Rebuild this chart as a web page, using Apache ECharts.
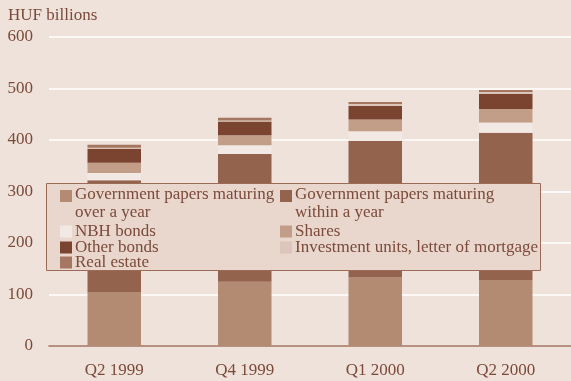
<!DOCTYPE html>
<html>
<head>
<meta charset="utf-8">
<script src="https://cdn.jsdelivr.net/npm/echarts@6/dist/echarts.min.js"></script>
<style>
  html, body { margin: 0; padding: 0; background: #efe2da; }
  #chart { width: 571px; height: 381px; }
</style>
</head>
<body>
<div id="chart"></div>
<script>
// Quarter categories and stacked components (HUF billions)
const quarters = ['Q2 1999', 'Q4 1999', 'Q1 2000', 'Q2 2000'];
const govOverYear     = [105, 125, 133, 128];
const govWithinYear   = [217, 248, 265, 286];
const nbhBonds        = [14, 17, 19, 20];
const shares          = [20, 19, 23, 26];
const otherBonds      = [27, 27, 26, 30];
const investmentUnits = [2, 2, 4, 3];
const realEstate      = [6, 5, 4, 4];
const yTicks = [0, 100, 200, 300, 400, 500, 600];

const FONT = '"Liberation Serif", "DejaVu Serif", serif';
const TEXT = '#7b4a3a';
const FS = 17;

const seriesDefs = [
  { name: 'Government papers maturing over a year', data: govOverYear, color: '#b38a72' },
  { name: 'Government papers maturing within a year', data: govWithinYear, color: '#93634d' },
  { name: 'NBH bonds', data: nbhBonds, color: '#f3e9e4' },
  { name: 'Shares', data: shares, color: '#c29e88' },
  { name: 'Other bonds', data: otherBonds, color: '#7a4431' },
  { name: 'Investment units, letter of mortgage', data: investmentUnits, color: '#dcc5ba' },
  { name: 'Real estate', data: realEstate, color: '#a57660' }
];

// Legend entries laid out in two columns inside a framed box
const legendSlots = [
  { name: seriesDefs[0].name, left: 60, top: 186, wrap: 'over a year' },
  { name: seriesDefs[1].name, left: 280, top: 186, wrap: 'within a year' },
  { name: seriesDefs[2].name, left: 60, top: 223 },
  { name: seriesDefs[3].name, left: 280, top: 223 },
  { name: seriesDefs[4].name, left: 60, top: 239 },
  { name: seriesDefs[5].name, left: 280, top: 239 },
  { name: seriesDefs[6].name, left: 60, top: 254 }
];

const legends = legendSlots.map(s => {
  const twoLine = !!s.wrap;
  return {
    data: [s.name],
    left: s.left,
    top: s.top,
    padding: 0,
    itemGap: 0,
    itemWidth: 12,
    itemHeight: twoLine ? 28 : 12,
    icon: twoLine ? 'path://M0,0H12V12H0Z M0,28L0.01,28' : 'rect',
    selectedMode: false,
    z: 10,
    itemStyle: { borderWidth: 0 },
    textStyle: { fontFamily: FONT, fontSize: FS, color: TEXT, lineHeight: twoLine ? 18 : 17, padding: [0, 0, 0, -2] },
    formatter: name => twoLine ? name.slice(0, name.length - s.wrap.length - 1) + '\n' + s.wrap : name
  };
});

const option = {
  backgroundColor: '#efe2da',
  animation: false,
  title: {
    text: 'HUF billions',
    left: 8, top: 7,
    padding: 0,
    textStyle: { fontFamily: FONT, fontSize: FS, fontWeight: 'normal', color: TEXT }
  },
  grid: { left: 49, right: 0, top: 37, bottom: 35 },
  legend: legends,
  graphic: [{
    type: 'rect',
    z: 5,
    shape: { x: 46.5, y: 183.5, width: 494, height: 87 },
    style: { fill: '#e9d7cd', stroke: '#9c6b57', lineWidth: 1 }
  }],
  xAxis: {
    type: 'category',
    data: quarters,
    axisTick: { show: false },
    axisLine: { lineStyle: { color: '#a06f5b', width: 1.5 } },
    axisLabel: { fontFamily: FONT, fontSize: FS, color: TEXT, margin: 16 }
  },
  yAxis: {
    type: 'value',
    min: yTicks[0],
    max: yTicks[yTicks.length - 1],
    interval: yTicks[1] - yTicks[0],
    axisLine: { show: false },
    axisTick: { show: false },
    splitLine: { lineStyle: { color: '#ffffff', width: 1.5 } },
    axisLabel: { fontFamily: FONT, fontSize: FS, color: TEXT, margin: 16 }
  },
  series: seriesDefs.map(d => ({
    name: d.name,
    type: 'bar',
    stack: 'assets',
    barWidth: '41%',
    data: d.data,
    itemStyle: { color: d.color, borderWidth: 0 }
  }))
};

echarts.init(document.getElementById('chart'), null, { renderer: 'canvas' }).setOption(option);
</script>
</body>
</html>
